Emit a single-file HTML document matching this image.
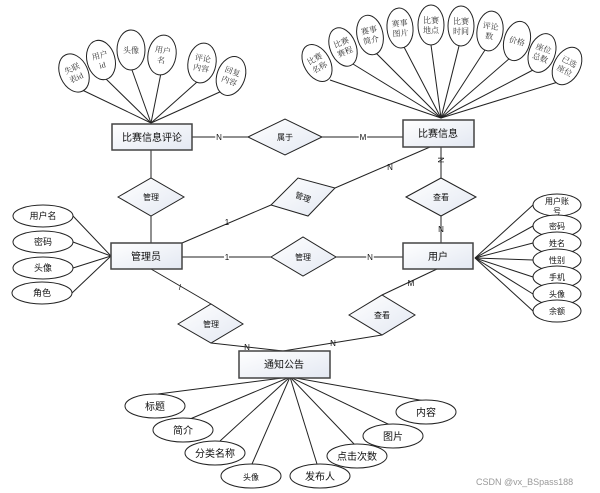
<!DOCTYPE html>
<html><head><meta charset="utf-8"><style>
html,body{margin:0;padding:0;background:#fff;}
svg{display:block;}
text{font-family:"Liberation Sans","Noto Sans CJK SC",sans-serif;fill:#111;}
.s{font-family:"Liberation Serif","Noto Serif CJK SC",serif;font-size:8px;fill:#333;}
</style></head><body>
<svg width="600" height="493" viewBox="0 0 600 493" xmlns="http://www.w3.org/2000/svg">
<defs>
<linearGradient id="g" x1="0" y1="0" x2="1" y2="1"><stop offset="0" stop-color="#ffffff"/><stop offset="1" stop-color="#e3e8f2"/></linearGradient>
</defs>
<g stroke="#222" stroke-width="1" fill="none">
<!-- left cluster lines -->
<line x1="151" y1="123" x2="78" y2="88"/>
<line x1="151" y1="123" x2="104" y2="77"/>
<line x1="151" y1="123" x2="132" y2="70"/>
<line x1="151" y1="123" x2="161" y2="73"/>
<line x1="151" y1="123" x2="197" y2="82"/>
<line x1="151" y1="123" x2="222" y2="91"/>
<!-- right cluster lines -->
<line x1="441" y1="118" x2="330" y2="80"/>
<line x1="441" y1="118" x2="353" y2="64"/>
<line x1="441" y1="118" x2="376" y2="53"/>
<line x1="441" y1="118" x2="404" y2="47"/>
<line x1="441" y1="118" x2="431" y2="45"/>
<line x1="441" y1="118" x2="459" y2="46"/>
<line x1="441" y1="118" x2="485" y2="50"/>
<line x1="441" y1="118" x2="510" y2="58"/>
<line x1="441" y1="118" x2="533" y2="70"/>
<line x1="441" y1="118" x2="558" y2="82"/>
<!-- admin attrs -->
<line x1="111" y1="256" x2="73" y2="216"/>
<line x1="111" y1="256" x2="73" y2="242"/>
<line x1="111" y1="256" x2="73" y2="268"/>
<line x1="111" y1="256" x2="72" y2="293"/>
<!-- user attrs -->
<line x1="475" y1="258" x2="533" y2="205"/>
<line x1="475" y1="258" x2="533" y2="226"/>
<line x1="475" y1="258" x2="533" y2="243"/>
<line x1="475" y1="258" x2="533" y2="260"/>
<line x1="475" y1="258" x2="533" y2="277"/>
<line x1="475" y1="258" x2="533" y2="294"/>
<line x1="475" y1="258" x2="533" y2="311"/>
<!-- notice attrs -->
<line x1="290" y1="377" x2="158" y2="394"/>
<line x1="290" y1="377" x2="190" y2="419"/>
<line x1="290" y1="377" x2="220" y2="441"/>
<line x1="290" y1="377" x2="252" y2="464"/>
<line x1="290" y1="377" x2="317" y2="464"/>
<line x1="290" y1="377" x2="355" y2="445"/>
<line x1="290" y1="377" x2="390" y2="425"/>
<line x1="290" y1="377" x2="425" y2="401"/>
<!-- relations -->
<line x1="192" y1="137" x2="248" y2="137"/>
<line x1="322" y1="137" x2="403" y2="137"/>
<line x1="151" y1="150" x2="151" y2="178"/>
<line x1="151" y1="216" x2="151" y2="243"/>
<line x1="182" y1="243" x2="271" y2="205"/>
<line x1="335" y1="188" x2="430" y2="147"/>
<line x1="441" y1="147" x2="441" y2="178"/>
<line x1="441" y1="216" x2="441" y2="243"/>
<line x1="182" y1="257" x2="271" y2="257"/>
<line x1="336" y1="257" x2="403" y2="257"/>
<line x1="151" y1="269" x2="211" y2="304"/>
<line x1="211" y1="343" x2="283" y2="351"/>
<line x1="437" y1="269" x2="382" y2="295"/>
<line x1="382" y1="335" x2="283" y2="351"/>
</g>
<!-- rotated ellipses left -->
<g stroke="#222" fill="#fff">
<ellipse cx="74" cy="73" rx="14" ry="20" transform="rotate(-25 74 73)"/>
<ellipse cx="101" cy="60" rx="14" ry="20" transform="rotate(-15 101 60)"/>
<ellipse cx="131" cy="50" rx="14" ry="20"/>
<ellipse cx="162" cy="55" rx="14" ry="20" transform="rotate(10 162 55)"/>
<ellipse cx="202" cy="63" rx="14" ry="20" transform="rotate(10 202 63)"/>
<ellipse cx="231" cy="76" rx="14" ry="20" transform="rotate(20 231 76)"/>
<ellipse cx="317" cy="63" rx="13" ry="20" transform="rotate(-30 317 63)"/>
<ellipse cx="343" cy="47" rx="13" ry="20" transform="rotate(-22 343 47)"/>
<ellipse cx="370" cy="35" rx="13" ry="20" transform="rotate(-12 370 35)"/>
<ellipse cx="400" cy="28" rx="13" ry="20" transform="rotate(-5 400 28)"/>
<ellipse cx="431" cy="25" rx="13" ry="20"/>
<ellipse cx="461" cy="26" rx="13" ry="20"/>
<ellipse cx="490" cy="31" rx="13" ry="20" transform="rotate(8 490 31)"/>
<ellipse cx="517" cy="41" rx="13" ry="20" transform="rotate(15 517 41)"/>
<ellipse cx="542" cy="53" rx="13" ry="20" transform="rotate(20 542 53)"/>
<ellipse cx="567" cy="66" rx="13" ry="20" transform="rotate(28 567 66)"/>
<ellipse cx="43" cy="216" rx="30" ry="11"/>
<ellipse cx="43" cy="242" rx="30" ry="11"/>
<ellipse cx="43" cy="268" rx="30" ry="11"/>
<ellipse cx="42" cy="293" rx="30" ry="11"/>
<ellipse cx="557" cy="205" rx="24" ry="11"/>
<ellipse cx="557" cy="226" rx="24" ry="11"/>
<ellipse cx="557" cy="243" rx="24" ry="11"/>
<ellipse cx="557" cy="260" rx="24" ry="11"/>
<ellipse cx="557" cy="277" rx="24" ry="11"/>
<ellipse cx="557" cy="294" rx="24" ry="11"/>
<ellipse cx="557" cy="311" rx="24" ry="11"/>
<ellipse cx="155" cy="406" rx="30" ry="12"/>
<ellipse cx="183" cy="430" rx="30" ry="12"/>
<ellipse cx="215" cy="453" rx="30" ry="12"/>
<ellipse cx="251" cy="476" rx="30" ry="12"/>
<ellipse cx="320" cy="476" rx="30" ry="12"/>
<ellipse cx="357" cy="456" rx="30" ry="12"/>
<ellipse cx="393" cy="436" rx="30" ry="12"/>
<ellipse cx="426" cy="412" rx="30" ry="12"/>
</g>
<!-- rects -->
<g stroke="#444" stroke-width="1.5" fill="url(#g)">
<rect x="112" y="124" width="80" height="26"/>
<rect x="403" y="120" width="71" height="27"/>
<rect x="111" y="243" width="71" height="26"/>
<rect x="403" y="243" width="70" height="26"/>
<rect x="239" y="351" width="91" height="27"/>
</g>
<!-- diamonds -->
<g stroke="#222" fill="url(#g)">
<polygon points="248,137 285,119 322,137 285,155"/>
<polygon points="118,197 151,178 184,197 151,216"/>
<polygon points="271,205 298,178 335,188 308,216"/>
<polygon points="271,257 303,237 336,257 303,276"/>
<polygon points="406,197 441,178 476,197 441,216"/>
<polygon points="178,324 211,304 243,324 211,343"/>
<polygon points="349,315 382,295 415,315 382,335"/>
</g>
<!-- entity labels -->
<g font-size="10" text-anchor="middle">
<text x="152" y="141">比赛信息评论</text>
<text x="438" y="137">比赛信息</text>
<text x="146" y="260">管理员</text>
<text x="438" y="260">用户</text>
<text x="284" y="368">通知公告</text>
</g>
<g font-size="8" text-anchor="middle" fill="#333">
<text x="285" y="140">属于</text>
<text x="151" y="200">管理</text>
<text x="303" y="200" transform="rotate(20 303 197)">管理</text>
<text x="303" y="260">管理</text>
<text x="441" y="200">查看</text>
<text x="211" y="327">管理</text>
<text x="382" y="318">查看</text>
</g>
<!-- cardinalities -->
<g font-size="8" text-anchor="middle" fill="#222">
<text x="219" y="140" style="fill:#fff;stroke:#fff;stroke-width:3">N</text><text x="219" y="140">N</text>
<text x="363" y="140" style="fill:#fff;stroke:#fff;stroke-width:3">M</text><text x="363" y="140">M</text>
<text x="227" y="225">1</text>
<text x="390" y="170">N</text>
<text x="441" y="163" transform="rotate(90 441 160)">N</text>
<text x="441" y="232">N</text>
<text x="227" y="260" style="fill:#fff;stroke:#fff;stroke-width:3">1</text><text x="227" y="260">1</text>
<text x="370" y="260" style="fill:#fff;stroke:#fff;stroke-width:3">N</text><text x="370" y="260">N</text>
<text x="180" y="290">/</text>
<text x="247" y="350">N</text>
<text x="411" y="286">M</text>
<text x="333" y="346">N</text>
</g>
<!-- small attribute labels (rotated ellipses) -->
<g class="s" text-anchor="middle">
<g transform="rotate(-25 74 73)"><text class="s" x="74" y="71">失联</text><text class="s" x="74" y="81">表id</text></g>
<g transform="rotate(-15 101 60)"><text class="s" x="101" y="58">用户</text><text class="s" x="101" y="68">id</text></g>
<text class="s" x="131" y="53">头像</text>
<g transform="rotate(10 162 55)"><text class="s" x="162" y="53">用户</text><text class="s" x="162" y="63">名</text></g>
<g transform="rotate(10 202 63)"><text class="s" x="202" y="61">评论</text><text class="s" x="202" y="71">内容</text></g>
<g transform="rotate(20 231 76)"><text class="s" x="231" y="74">回复</text><text class="s" x="231" y="84">内容</text></g>
<g transform="rotate(-30 317 63)"><text class="s" x="317" y="61">比赛</text><text class="s" x="317" y="71">名称</text></g>
<g transform="rotate(-22 343 47)"><text class="s" x="343" y="45">比赛</text><text class="s" x="343" y="55">赛程</text></g>
<g transform="rotate(-12 370 35)"><text class="s" x="370" y="33">赛事</text><text class="s" x="370" y="43">简介</text></g>
<g transform="rotate(-5 400 28)"><text class="s" x="400" y="26">赛事</text><text class="s" x="400" y="36">图片</text></g>
<text class="s" x="431" y="23">比赛</text><text class="s" x="431" y="33">地点</text>
<text class="s" x="461" y="24">比赛</text><text class="s" x="461" y="34">时间</text>
<g transform="rotate(8 490 31)"><text class="s" x="490" y="29">评论</text><text class="s" x="490" y="39">数</text></g>
<g transform="rotate(15 517 41)"><text class="s" x="517" y="44">价格</text></g>
<g transform="rotate(20 542 53)"><text class="s" x="542" y="51">座位</text><text class="s" x="542" y="61">总数</text></g>
<g transform="rotate(28 567 66)"><text class="s" x="567" y="64">已选</text><text class="s" x="567" y="74">座位</text></g>
</g>
<g font-size="9" text-anchor="middle">
<text x="43" y="219">用户名</text>
<text x="43" y="245">密码</text>
<text x="43" y="271">头像</text>
<text x="42" y="296">角色</text>
</g>
<g font-size="8" text-anchor="middle">
<text x="557" y="204">用户账</text><text x="557" y="214">号</text>
<text x="557" y="229">密码</text>
<text x="557" y="246">姓名</text>
<text x="557" y="263">性别</text>
<text x="557" y="280">手机</text>
<text x="557" y="297">头像</text>
<text x="557" y="314">余额</text>
</g>
<g font-size="10" text-anchor="middle">
<text x="155" y="410">标题</text>
<text x="183" y="434">简介</text>
<text x="215" y="457">分类名称</text>
<text x="251" y="480" font-size="8">头像</text>
<text x="320" y="480">发布人</text>
<text x="357" y="460">点击次数</text>
<text x="393" y="440">图片</text>
<text x="426" y="416">内容</text>
</g>
<text x="476" y="485" font-size="9" style="fill:#999">CSDN @vx_BSpass188</text>
</svg>
</body></html>
